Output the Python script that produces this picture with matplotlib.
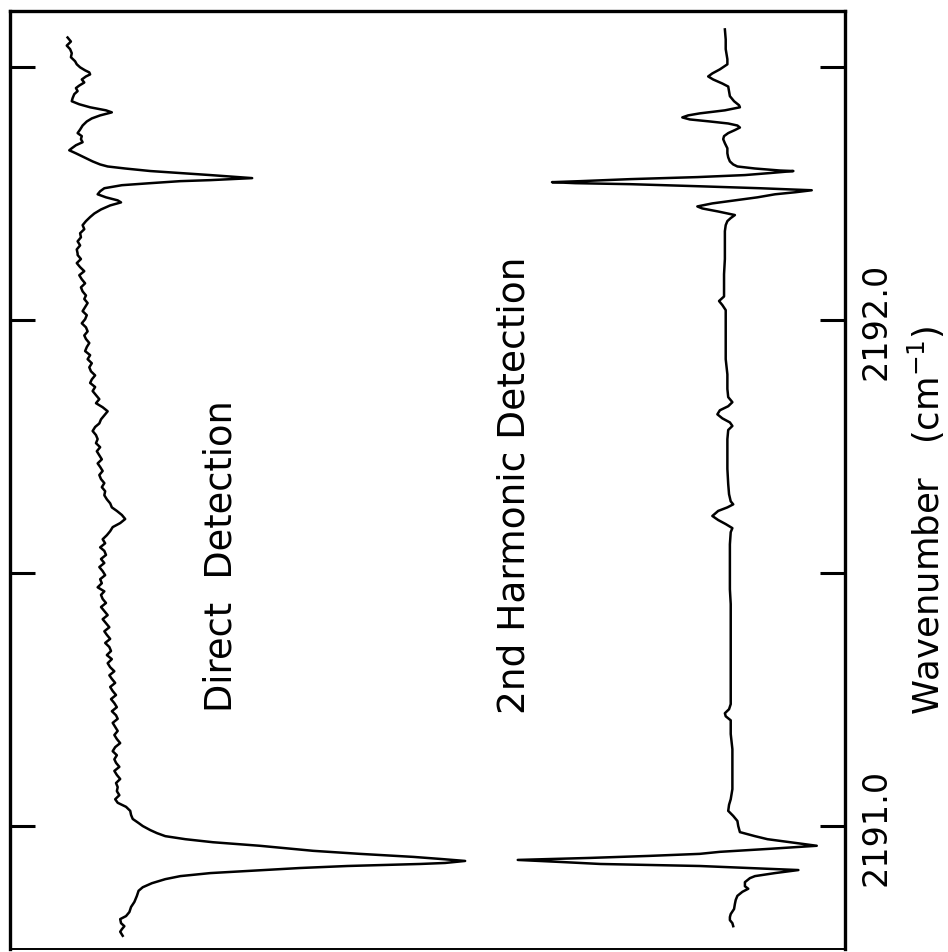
import matplotlib
matplotlib.use("Agg")
import matplotlib.pyplot as plt

# --- direct detection trace: wavenumber (cm-1) vs. signal (% of full scale) ---
direct_wn = [
    2192.559, 2192.551, 2192.543, 2192.536, 2192.528, 2192.520, 2192.512, 2192.506,
    2192.500, 2192.494, 2192.490, 2192.486, 2192.482, 2192.476, 2192.470, 2192.464,
    2192.459, 2192.453, 2192.447, 2192.439, 2192.433, 2192.427, 2192.421, 2192.415,
    2192.411, 2192.405, 2192.399, 2192.393, 2192.385, 2192.377, 2192.370, 2192.364,
    2192.358, 2192.352, 2192.346, 2192.340, 2192.336, 2192.330, 2192.322, 2192.314,
    2192.308, 2192.304, 2192.300, 2192.295, 2192.291, 2192.287, 2192.283, 2192.281,
    2192.279, 2192.277, 2192.275, 2192.271, 2192.267, 2192.261, 2192.255, 2192.249,
    2192.243, 2192.237, 2192.233, 2192.227, 2192.219, 2192.211, 2192.204, 2192.196,
    2192.188, 2192.180, 2192.172, 2192.164, 2192.156, 2192.148, 2192.140, 2192.132,
    2192.129, 2192.121, 2192.113, 2192.105, 2192.097, 2192.089, 2192.081, 2192.073,
    2192.065, 2192.057, 2192.049, 2192.042, 2192.034, 2192.026, 2192.018, 2192.010,
    2192.002, 2191.994, 2191.986, 2191.978, 2191.970, 2191.963, 2191.955, 2191.947,
    2191.939, 2191.931, 2191.923, 2191.915, 2191.907, 2191.899, 2191.891, 2191.883,
    2191.876, 2191.868, 2191.860, 2191.852, 2191.844, 2191.836, 2191.828, 2191.820,
    2191.812, 2191.804, 2191.796, 2191.789, 2191.781, 2191.773, 2191.765, 2191.757,
    2191.749, 2191.741, 2191.733, 2191.725, 2191.717, 2191.710, 2191.702, 2191.694,
    2191.686, 2191.678, 2191.670, 2191.662, 2191.654, 2191.646, 2191.638, 2191.630,
    2191.623, 2191.615, 2191.607, 2191.599, 2191.591, 2191.583, 2191.575, 2191.567,
    2191.559, 2191.551, 2191.544, 2191.536, 2191.528, 2191.520, 2191.512, 2191.504,
    2191.496, 2191.488, 2191.480, 2191.472, 2191.464, 2191.457, 2191.449, 2191.441,
    2191.433, 2191.425, 2191.417, 2191.409, 2191.401, 2191.393, 2191.385, 2191.378,
    2191.370, 2191.362, 2191.354, 2191.346, 2191.338, 2191.330, 2191.322, 2191.314,
    2191.306, 2191.298, 2191.291, 2191.283, 2191.275, 2191.267, 2191.259, 2191.251,
    2191.243, 2191.235, 2191.227, 2191.219, 2191.212, 2191.204, 2191.196, 2191.188,
    2191.180, 2191.172, 2191.164, 2191.156, 2191.148, 2191.140, 2191.132, 2191.125,
    2191.117, 2191.109, 2191.101, 2191.093, 2191.085, 2191.077,
    2191.069, 2191.061, 2191.053, 2191.046, 2191.038, 2191.030, 2191.022, 2191.014,
    2191.006, 2191.000, 2190.992, 2190.986, 2190.980, 2190.974, 2190.968, 2190.961,
    2190.951, 2190.945, 2190.939, 2190.935, 2190.931, 2190.929, 2190.927, 2190.925,
    2190.923, 2190.921, 2190.917, 2190.911, 2190.907, 2190.901, 2190.895, 2190.887,
    2190.879, 2190.872, 2190.862, 2190.850, 2190.840, 2190.830, 2190.822, 2190.816,
    2190.808, 2190.802, 2190.796, 2190.791, 2190.783,
]
direct_sig = [
    6.9, 7.3, 6.8, 7.2, 7.4, 7.3, 7.8, 8.0,
    8.4, 9.0, 9.5, 9.6, 9.1, 8.6, 8.9, 8.3,
    7.9, 8.1, 7.7, 7.5, 7.4, 8.3, 9.6, 11.5,
    12.2, 10.8, 9.8, 9.2, 8.7, 8.4, 8.1, 8.6,
    8.5, 8.7, 7.9, 7.4, 7.1, 7.9, 8.9, 9.9,
    10.8, 11.7, 13.8, 16.8, 20.4, 24.0, 27.3, 29.0,
    26.6, 24.0, 20.4, 16.8, 13.4, 11.3, 10.8, 10.5,
    11.5, 12.9, 13.3, 12.0, 10.9, 10.1, 9.6, 9.1,
    8.7, 8.9, 8.4, 8.5, 8.1, 8.4, 8.0, 8.1,
    8.1, 8.5, 8.0, 8.4, 8.9, 8.3, 8.6, 9.0,
    8.5, 8.7, 9.1, 8.9, 9.3, 9.0, 8.7, 9.2,
    9.0, 8.6, 9.1, 9.3, 8.9, 9.1, 9.5, 9.2,
    9.0, 9.6, 9.3, 9.8, 9.5, 9.7, 10.2, 9.8,
    9.6, 10.2, 9.9, 10.3, 10.7, 10.3, 11.1, 11.7,
    11.3, 10.9, 10.7, 10.2, 9.9, 10.3, 10.5, 10.3,
    10.8, 10.4, 10.7, 11.0, 10.5, 10.8, 11.1, 10.7,
    10.9, 11.3, 11.0, 11.4, 11.3, 11.6, 12.0, 12.2,
    12.8, 13.4, 13.8, 13.2, 12.3, 12.0, 11.6, 11.1,
    11.4, 10.8, 11.3, 11.5, 10.9, 11.3, 10.7, 11.1,
    11.4, 10.8, 11.0, 10.5, 11.3, 10.9, 11.1, 11.5,
    10.9, 11.3, 11.7, 11.1, 11.5, 11.9, 11.3, 11.6,
    12.0, 11.4, 11.9, 12.1, 11.6, 12.2, 11.7, 12.0,
    12.5, 11.9, 12.2, 12.6, 12.0, 12.3, 12.7, 12.1,
    12.5, 12.8, 12.2, 12.7, 12.9, 12.3, 12.6, 12.9,
    12.5, 12.8, 13.2, 12.6, 12.3, 12.8, 12.5, 12.7,
    13.1, 12.5, 12.8, 13.2, 12.7, 12.9,
    12.8, 13.1, 12.6, 12.9, 13.9, 14.4, 14.5, 14.7,
    15.4, 15.9, 16.8, 17.6, 18.6, 21.0, 24.3, 29.9,
    36.3, 41.9, 48.3, 51.5, 54.5, 53.3, 52.1, 49.1,
    44.9, 40.4, 34.7, 28.4, 24.0, 20.4, 18.6, 17.0,
    15.9, 15.4, 15.2, 14.9, 14.5, 14.3, 13.9, 13.2,
    13.3, 13.7, 13.4, 13.2, 13.5,
]

# --- 2nd harmonic detection trace ---
harmonic_wn = [
    2192.575, 2192.555, 2192.536, 2192.516, 2192.506, 2192.496, 2192.488, 2192.482,
    2192.476, 2192.468, 2192.462, 2192.453, 2192.443, 2192.433, 2192.425, 2192.421,
    2192.415, 2192.409, 2192.405, 2192.401, 2192.397, 2192.393, 2192.389, 2192.385,
    2192.381, 2192.376, 2192.370, 2192.364, 2192.358, 2192.350, 2192.340, 2192.330,
    2192.322, 2192.314, 2192.308, 2192.304, 2192.300, 2192.296, 2192.295, 2192.291,
    2192.287, 2192.283, 2192.279, 2192.275, 2192.273, 2192.271, 2192.269, 2192.265,
    2192.261, 2192.257, 2192.253, 2192.249, 2192.243, 2192.237, 2192.231, 2192.225,
    2192.221, 2192.215, 2192.208, 2192.202, 2192.196, 2192.188, 2192.176, 2192.150,
    2192.121, 2192.091, 2192.061, 2192.047, 2192.038, 2192.030, 2192.020, 2192.006,
    2191.982, 2191.953, 2191.923, 2191.893, 2191.864, 2191.848, 2191.838, 2191.830,
    2191.822, 2191.814, 2191.806, 2191.798, 2191.791, 2191.783, 2191.765, 2191.735,
    2191.706, 2191.676, 2191.656, 2191.642, 2191.636, 2191.630, 2191.623, 2191.613,
    2191.605, 2191.597, 2191.589, 2191.581, 2191.557, 2191.528, 2191.498, 2191.468,
    2191.439, 2191.409, 2191.379, 2191.350, 2191.320, 2191.291, 2191.261, 2191.241,
    2191.231, 2191.223, 2191.217, 2191.209, 2191.182, 2191.152, 2191.123, 2191.093,
    2191.073, 2191.053, 2191.042, 2191.030, 2191.020, 2191.010, 2191.000, 2190.988,
    2190.980, 2190.974, 2190.968, 2190.961, 2190.955, 2190.949, 2190.945, 2190.941,
    2190.937, 2190.933, 2190.929, 2190.925, 2190.923, 2190.921, 2190.917, 2190.913,
    2190.907, 2190.901, 2190.897, 2190.889, 2190.881, 2190.876, 2190.870, 2190.862,
    2190.854, 2190.846, 2190.836, 2190.826, 2190.820, 2190.814, 2190.808, 2190.802,
]
harmonic_sig = [
    85.6, 85.7, 85.7, 85.9, 85.9, 85.0, 84.1, 83.6,
    84.2, 85.3, 86.0, 86.1, 86.2, 86.7, 87.3, 87.4,
    85.6, 82.6, 81.2, 80.5, 81.4, 83.8, 86.0, 87.1,
    87.4, 86.8, 86.0, 85.5, 85.4, 85.6, 85.9, 85.9,
    86.0, 86.2, 86.6, 87.1, 89.2, 92.2, 93.8, 91.0,
    88.0, 82.3, 74.3, 68.3, 64.9, 67.7, 74.3, 82.3,
    89.8, 96.0, 94.0, 91.6, 89.5, 86.8, 84.1, 82.3,
    82.9, 84.8, 86.8, 86.3, 85.9, 85.7, 85.6, 85.6,
    85.6, 85.5, 85.5, 85.5, 84.9, 85.3, 85.7, 85.7,
    85.7, 85.7, 85.7, 85.9, 85.9, 86.0, 86.5, 86.0,
    85.0, 84.7, 85.3, 86.2, 86.5, 86.0, 85.9, 85.9,
    85.9, 86.0, 86.1, 86.3, 86.6, 85.9, 84.8, 84.1,
    84.8, 85.7, 86.5, 86.3, 86.2, 86.2, 86.2, 86.2,
    86.3, 86.3, 86.3, 86.3, 86.3, 86.3, 86.3, 86.3,
    86.1, 85.6, 85.7, 86.3, 86.3, 86.5, 86.5, 86.5,
    86.5, 86.3, 86.1, 86.0, 86.6, 87.1, 87.2, 87.4,
    89.2, 90.7, 93.4, 96.6, 91.0, 85.0, 82.6, 76.6,
    69.5, 60.8, 65.9, 70.7, 76.6, 82.6, 88.6, 94.4,
    91.6, 89.2, 88.6, 88.0, 88.0, 88.4, 87.7, 87.1,
    86.9, 86.8, 86.7, 86.3, 86.2, 86.2, 86.5, 86.6,
]

wn_ticks = [2191.0, 2191.5, 2192.0, 2192.5]
wn_tick_labels = ["2191.0", "", "2192.0", ""]
wn_range = (2190.757, 2192.611)
sig_range = (0, 100)

plt.rcParams['font.family'] = 'DejaVu Sans'

fig = plt.figure(figsize=(9.48, 9.53), dpi=100)
ax = fig.add_axes([0.0105, 0.0032, 0.881, 0.984])

# spectra run vertically: wavenumber on the vertical axis, signal across
ax.plot(direct_sig, direct_wn, color='black', lw=1.8)
ax.plot(harmonic_sig, harmonic_wn, color='black', lw=1.8)

ax.set_xlim(*sig_range)
ax.set_ylim(*wn_range)
ax.set_xticks([])
ax.set_yticks(wn_ticks)
ax.set_yticklabels(wn_tick_labels)
ax.tick_params(axis='y', direction='in', length=18, width=2.2,
               left=True, right=True, labelleft=False, labelright=True,
               labelsize=24, pad=10)
for lab in ax.get_yticklabels():
    lab.set_rotation(90)
    lab.set_va('center')
    lab.set_ha('left')

for side in ['left', 'right', 'top']:
    ax.spines[side].set_linewidth(2.4)
ax.spines['bottom'].set_linewidth(1.4)

ax.text(0.253, 0.420, "Direct  Detection", transform=ax.transAxes,
        rotation=90, ha='center', va='center', fontsize=26.5)
ax.text(0.604, 0.495, "2nd Harmonic Detection", transform=ax.transAxes,
        rotation=90, ha='center', va='center', fontsize=27)

fig.text(0.977, 0.454, "Wavenumber   (cm$^{-1}$)", rotation=90,
         ha='center', va='center', fontsize=25.5)

fig.savefig('out.png', dpi=100)
